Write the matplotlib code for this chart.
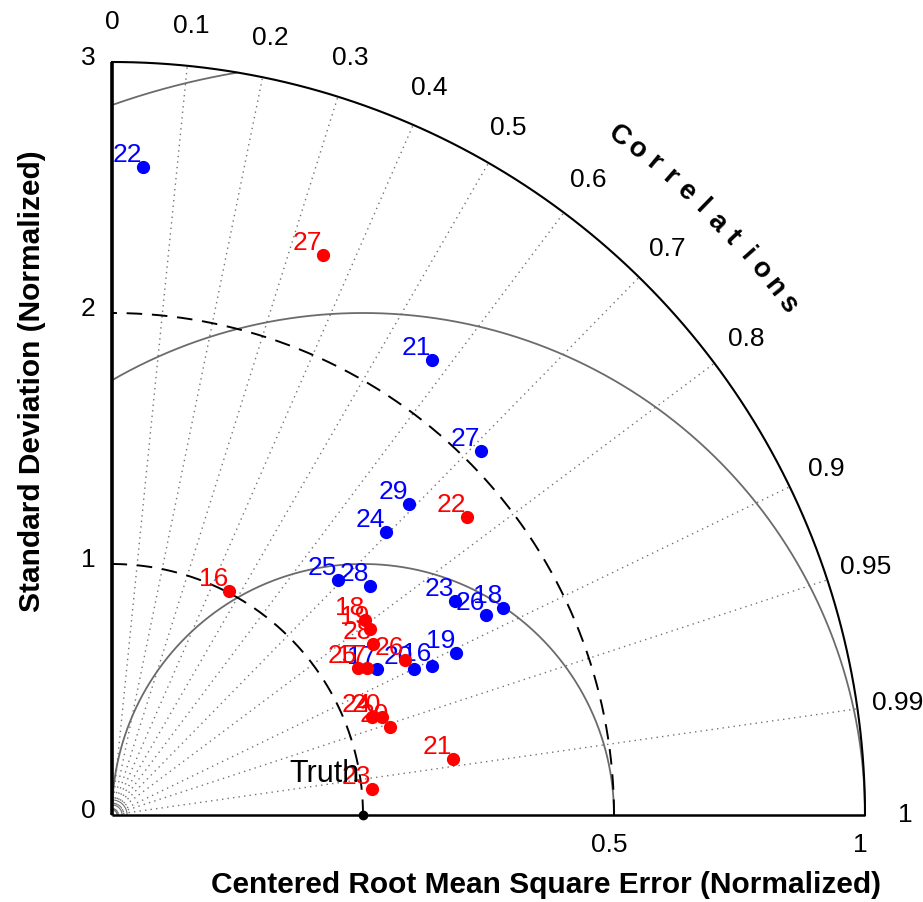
import numpy as np
import matplotlib.pyplot as plt

plt.rcParams['font.family'] = ['Liberation Sans', 'DejaVu Sans']

# blue set: normalized std and correlation
blue_labels = ['22', '21', '27', '29', '24', '25', '28', '23', '26', '18', '19', '16', '20', '17']
blue_std = [2.585, 2.216, 2.065, 1.713, 1.570, 1.299, 1.374, 1.611, 1.690, 1.763, 1.515, 1.406, 1.336, 1.206]
blue_corr = [0.048, 0.575, 0.712, 0.691, 0.696, 0.693, 0.748, 0.848, 0.882, 0.884, 0.905, 0.907, 0.900, 0.876]

# red set
red_labels = ['27', '22', '16', '21', '23', '18', '19', '28', '25', '17', '26', '24', '20', '29']
red_std = [2.384, 1.846, 1.007, 1.377, 1.041, 1.273, 1.267, 1.243, 1.142, 1.173, 1.321, 1.107, 1.145, 1.162]
red_corr = [0.353, 0.766, 0.463, 0.987, 0.995, 0.792, 0.811, 0.837, 0.858, 0.866, 0.884, 0.936, 0.940, 0.953]

corr_lines = [0.1, 0.2, 0.3, 0.4, 0.5, 0.6, 0.7, 0.8, 0.9, 0.95, 0.99]
corr_ticks = [0, 0.1, 0.2, 0.3, 0.4, 0.5, 0.6, 0.7, 0.8, 0.9, 0.95, 0.99, 1]
corr_tick_labels = ['0', '0.1', '0.2', '0.3', '0.4', '0.5', '0.6', '0.7', '0.8', '0.9', '0.95', '0.99', '1']
std_ticks = [0, 1, 2, 3]
std_circles = [1, 2]
rms_circles = [1, 2, 3]
rms_tick_pos = [2, 3]
rms_tick_labels = ['0.5', '1']
smax = 3.0

fig = plt.figure(figsize=(9.23, 9.02), dpi=100)
ax = fig.add_axes([0, 0, 1, 1])
ax.set_xlim(-112 / 251, (923 - 112) / 251)
ax.set_ylim(-(902 - 815) / 251, 815 / 251)
ax.axis('off')

# correlation rays
for c in corr_lines:
    th = np.arccos(c)
    ax.plot([0, smax * np.cos(th)], [0, smax * np.sin(th)], color='0.45',
            lw=1.0, ls=(0, (1, 3)), zorder=1)

# tiny arcs at the origin
t = np.linspace(0, np.pi / 2, 100)
for r in [0.02, 0.04, 0.06]:
    ax.plot(r * np.cos(t), r * np.sin(t), color='0.45', lw=0.8, zorder=1)

# centered RMS circles around the reference point
t = np.linspace(0, np.pi, 1500)
for r in rms_circles:
    x = 1 + r * np.cos(t)
    y = r * np.sin(t)
    ok = (x >= 0) & (x ** 2 + y ** 2 <= smax ** 2 + 1e-9)
    x = np.where(ok, x, np.nan)
    ax.plot(x, y, color='0.42', lw=1.3, zorder=2)

# standard deviation circles
t = np.linspace(0, np.pi / 2, 500)
for r in std_circles:
    ax.plot(r * np.cos(t), r * np.sin(t), color='black', lw=1.4,
            ls=(0, (8, 5)), zorder=2)
ax.plot(smax * np.cos(t), smax * np.sin(t), color='black', lw=1.5, zorder=3)

# axes lines
ax.plot([0, 0], [0, smax], color='black', lw=2.6, zorder=3, solid_capstyle='butt')
ax.plot([0, smax], [0, 0], color='black', lw=1.8, zorder=3, solid_capstyle='butt')

# tick labels
for s in std_ticks:
    ax.text(-0.095, s + 0.015, str(s), ha='center', va='center', fontsize=19)
for p, lab in zip(rms_tick_pos, rms_tick_labels):
    ax.text(p - 0.02, -0.12, lab, ha='center', va='center', fontsize=19)
for c, lab in zip(corr_ticks, corr_tick_labels):
    th = np.arccos(c)
    ax.text(3.16 * np.cos(th), 3.16 * np.sin(th), lab, ha='center', va='center',
            fontsize=19)

# curved "Correlations" title
word = 'Correlations'
angs = np.radians(np.linspace(53.2, 37.1, len(word)))
for ch, a in zip(word, angs):
    ax.text(3.375 * np.cos(a), 3.375 * np.sin(a), ch, ha='center', va='center',
            rotation=np.degrees(a) - 90, fontsize=20, fontweight='bold')

ax.text(1.73, -0.28, 'Centered Root Mean Square Error (Normalized)', ha='center',
        va='center', fontsize=21.5, fontweight='bold')
ax.text(-0.32, 1.73, 'Standard Deviation (Normalized)', ha='center', va='center',
        rotation=90, fontsize=21.5, fontweight='bold')

# reference
ax.plot([1], [0], 'o', color='black', ms=6, zorder=6, clip_on=False)
ax.annotate('Truth', (1, 0), xytext=(-2.5, 24), textcoords='offset points',
            ha='right', va='baseline', fontsize=22, color='black', zorder=6)


def draw_set(labels, std, corr, color):
    std = np.asarray(std)
    corr = np.asarray(corr)
    x = std * corr
    y = std * np.sin(np.arccos(corr))
    ax.plot(x, y, 'o', color=color, ms=8.5, ls='none', zorder=5)
    for lab, xi, yi in zip(labels, x, y):
        ax.annotate(lab, (xi, yi), xytext=(-0.7, 3.6), textcoords='offset points',
                    ha='right', va='baseline', fontsize=19, color=color, zorder=5)


draw_set(blue_labels, blue_std, blue_corr, 'blue')
draw_set(red_labels, red_std, red_corr, 'red')

fig.savefig('out.png', dpi=100)
